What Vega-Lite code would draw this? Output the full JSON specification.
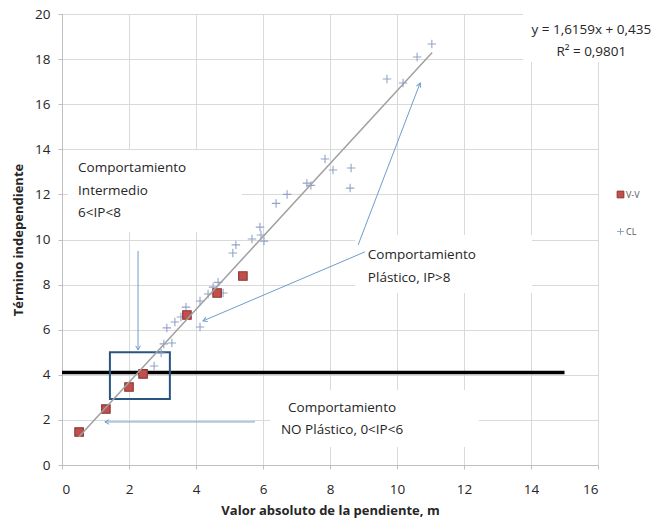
{
  "$schema": "https://vega.github.io/schema/vega-lite/v6.json",
  "width": 536,
  "height": 451,
  "autosize": "none",
  "padding": {"left": 62, "top": 14, "right": 62, "bottom": 57},
  "background": "white",
  "config": {"view": {"stroke": null}, "font": "Open Sans"},
  "datasets": {
    "boxes": [
      {"x": 0.18, "x2": 5.37, "y": 13.97, "y2": 10.33},
      {"x": 8.75, "x2": 14.03, "y": 10.2, "y2": 7.63},
      {"x": 6.21, "x2": 12.45, "y": 3.33, "y2": 0.8},
      {"x": 13.76, "x2": 16.2, "y": 20, "y2": 17.87}
    ],
    "pts": [
      {"x": 2.75, "y": 4.39, "serie": "CL"},
      {"x": 2.96, "y": 4.97, "serie": "CL"},
      {"x": 3.04, "y": 5.37, "serie": "CL"},
      {"x": 3.28, "y": 5.41, "serie": "CL"},
      {"x": 3.13, "y": 6.08, "serie": "CL"},
      {"x": 3.37, "y": 6.34, "serie": "CL"},
      {"x": 3.55, "y": 6.56, "serie": "CL"},
      {"x": 3.7, "y": 7.0, "serie": "CL"},
      {"x": 4.12, "y": 6.12, "serie": "CL"},
      {"x": 4.12, "y": 7.27, "serie": "CL"},
      {"x": 4.36, "y": 7.58, "serie": "CL"},
      {"x": 4.51, "y": 7.89, "serie": "CL"},
      {"x": 4.66, "y": 8.1, "serie": "CL"},
      {"x": 4.81, "y": 7.63, "serie": "CL"},
      {"x": 5.1, "y": 9.4, "serie": "CL"},
      {"x": 5.19, "y": 9.76, "serie": "CL"},
      {"x": 5.67, "y": 10.02, "serie": "CL"},
      {"x": 5.91, "y": 10.55, "serie": "CL"},
      {"x": 5.94, "y": 10.2, "serie": "CL"},
      {"x": 6.03, "y": 9.93, "serie": "CL"},
      {"x": 6.39, "y": 11.6, "serie": "CL"},
      {"x": 6.72, "y": 12.0, "serie": "CL"},
      {"x": 7.31, "y": 12.5, "serie": "CL"},
      {"x": 7.43, "y": 12.4, "serie": "CL"},
      {"x": 7.85, "y": 13.57, "serie": "CL"},
      {"x": 8.09, "y": 13.08, "serie": "CL"},
      {"x": 8.63, "y": 13.17, "serie": "CL"},
      {"x": 8.6, "y": 12.28, "serie": "CL"},
      {"x": 9.7, "y": 17.12, "serie": "CL"},
      {"x": 10.18, "y": 16.94, "serie": "CL"},
      {"x": 10.6, "y": 18.09, "serie": "CL"},
      {"x": 11.04, "y": 18.67, "serie": "CL"},
      {"x": 0.51, "y": 1.46, "serie": "V-V"},
      {"x": 1.31, "y": 2.48, "serie": "V-V"},
      {"x": 2.0, "y": 3.46, "serie": "V-V"},
      {"x": 2.42, "y": 4.04, "serie": "V-V"},
      {"x": 3.73, "y": 6.65, "serie": "V-V"},
      {"x": 4.63, "y": 7.63, "serie": "V-V"},
      {"x": 5.4, "y": 8.38, "serie": "V-V"}
    ],
    "trend": [{"x": 0.5, "y": 1.243}, {"x": 11.05, "y": 18.29}],
    "hline": [{"x": 0, "x2": 15, "y": 4.1}],
    "zone": [{"x": 1.43, "x2": 3.22, "y": 2.93, "y2": 5.0}],
    "arrows": [
      {"id": "a", "x": 2.27, "y": 9.49, "x2": 2.27, "y2": 5.1},
      {"id": "b", "x": 9.04, "y": 9.45, "x2": 4.21, "y2": 6.39},
      {"id": "c", "x": 8.84, "y": 9.76, "x2": 10.69, "y2": 16.94},
      {"id": "d", "x": 5.76, "y": 1.91, "x2": 1.28, "y2": 1.91}
    ],
    "notesLeft": [
      {"x": 0.48, "y": 13.17, "label": ["Comportamiento", "Intermedio", "6<IP<8"]},
      {"x": 9.13, "y": 9.31, "label": ["Comportamiento", "Plástico, IP>8"]}
    ],
    "notesCenter": [
      {"x": 8.36, "y": 2.53, "label": ["Comportamiento", "NO Plástico, 0<IP<6"]},
      {"x": 15.8, "y": 19.29, "label": ["y = 1,6159x + 0,435", "R² = 0,9801"]}
    ]
  },
  "encoding": {
    "x": {
      "field": "x", "type": "quantitative",
      "scale": {"domain": [0, 16], "nice": false, "zero": false},
      "axis": {
        "title": "Valor absoluto de la pendiente, m",
        "values": [0, 2, 4, 6, 8, 10, 12, 14, 16],
        "grid": true, "gridColor": "#d9d9d9", "gridWidth": 1,
        "domainColor": "#bfbfbf", "tickColor": "#bfbfbf", "tickSize": 4,
        "labelFontSize": 13.5, "labelColor": "#262626", "labelPadding": 13,
        "titleFontSize": 13, "titleFontWeight": "bold", "titleColor": "#262626", "titlePadding": 9
      }
    },
    "y": {
      "field": "y", "type": "quantitative",
      "scale": {"domain": [0, 20], "nice": false, "zero": false},
      "axis": {
        "title": "Término independiente",
        "values": [0, 2, 4, 6, 8, 10, 12, 14, 16, 18, 20],
        "grid": true, "gridColor": "#d9d9d9", "gridWidth": 1,
        "domainColor": "#bfbfbf", "tickColor": "#bfbfbf", "tickSize": 4,
        "labelFontSize": 13.5, "labelColor": "#262626", "labelPadding": 8,
        "titleFontSize": 13, "titleFontWeight": "bold", "titleColor": "#262626", "titlePadding": 9
      }
    }
  },
  "layer": [
    {
      "data": {"name": "boxes"},
      "mark": {"type": "rect", "color": "white", "clip": false},
      "encoding": {"x2": {"field": "x2"}, "y2": {"field": "y2"}}
    },
    {
      "data": {"name": "hline"},
      "mark": {"type": "rule", "color": "black", "strokeWidth": 3.5},
      "encoding": {"x2": {"field": "x2"}}
    },
    {
      "data": {"name": "zone"},
      "mark": {"type": "rect", "fill": null, "fillOpacity": 0, "stroke": "#2a5580", "strokeWidth": 2},
      "encoding": {"x2": {"field": "x2"}, "y2": {"field": "y2"}}
    },
    {
      "data": {"name": "pts"},
      "mark": {"type": "point", "filled": false, "strokeWidth": 1.1, "opacity": 1},
      "encoding": {
        "shape": {
          "field": "serie", "type": "nominal",
          "scale": {"domain": ["V-V", "CL"], "range": ["square", "M-1,0L1,0M0,-1L0,1"]},
          "legend": {
            "title": null, "orient": "none", "legendX": 554, "legendY": 176,
            "labelFontSize": 9, "labelColor": "#595959", "symbolSize": 45,
            "rowPadding": 26, "labelOffset": 1, "symbolStrokeWidth": 1
          }
        },
        "fill": {
          "field": "serie", "type": "nominal",
          "scale": {"domain": ["V-V", "CL"], "range": ["#c0504d", "transparent"]},
          "legend": null
        },
        "stroke": {
          "field": "serie", "type": "nominal",
          "scale": {"domain": ["V-V", "CL"], "range": ["#8c3330", "#93a3c8"]},
          "legend": null
        },
        "size": {"value": 72}
      }
    },
    {
      "data": {"name": "trend"},
      "mark": {"type": "line", "color": "#a0a0a0", "strokeWidth": 1.5},
      "encoding": {}
    },
    {
      "data": {"name": "arrows"},
      "mark": {"type": "rule", "color": "#6f9ccf", "strokeWidth": 1},
      "encoding": {"x2": {"field": "x2"}, "y2": {"field": "y2"}}
    },
    {
      "data": {"name": "arrows"},
      "transform": [{"filter": "datum.id === 'a'"}],
      "mark": {"type": "point", "shape": "M-1,-0.55L0,0L-1,0.55", "filled": false, "stroke": "#6f9ccf", "strokeWidth": 1, "size": 70, "angle": 90, "opacity": 1},
      "encoding": {"x": {"field": "x2", "type": "quantitative"}, "y": {"field": "y2", "type": "quantitative"}}
    },
    {
      "data": {"name": "arrows"},
      "transform": [{"filter": "datum.id === 'b'"}],
      "mark": {"type": "point", "shape": "M-1,-0.55L0,0L-1,0.55", "filled": false, "stroke": "#6f9ccf", "strokeWidth": 1, "size": 70, "angle": 157, "opacity": 1},
      "encoding": {"x": {"field": "x2", "type": "quantitative"}, "y": {"field": "y2", "type": "quantitative"}}
    },
    {
      "data": {"name": "arrows"},
      "transform": [{"filter": "datum.id === 'c'"}],
      "mark": {"type": "point", "shape": "M-1,-0.55L0,0L-1,0.55", "filled": false, "stroke": "#6f9ccf", "strokeWidth": 1, "size": 70, "angle": 291, "opacity": 1},
      "encoding": {"x": {"field": "x2", "type": "quantitative"}, "y": {"field": "y2", "type": "quantitative"}}
    },
    {
      "data": {"name": "arrows"},
      "transform": [{"filter": "datum.id === 'd'"}],
      "mark": {"type": "point", "shape": "M-1,-0.55L0,0L-1,0.55", "filled": false, "stroke": "#6f9ccf", "strokeWidth": 1, "size": 70, "angle": 180, "opacity": 1},
      "encoding": {"x": {"field": "x2", "type": "quantitative"}, "y": {"field": "y2", "type": "quantitative"}}
    },
    {
      "data": {"name": "notesLeft"},
      "mark": {"type": "text", "align": "left", "baseline": "middle", "fontSize": 13.5, "lineHeight": 22.5, "color": "#262626"},
      "encoding": {"text": {"field": "label"}}
    },
    {
      "data": {"name": "notesCenter"},
      "mark": {"type": "text", "align": "center", "baseline": "middle", "fontSize": 13.5, "lineHeight": 22, "color": "#262626", "clip": false},
      "encoding": {"text": {"field": "label"}}
    }
  ]
}
